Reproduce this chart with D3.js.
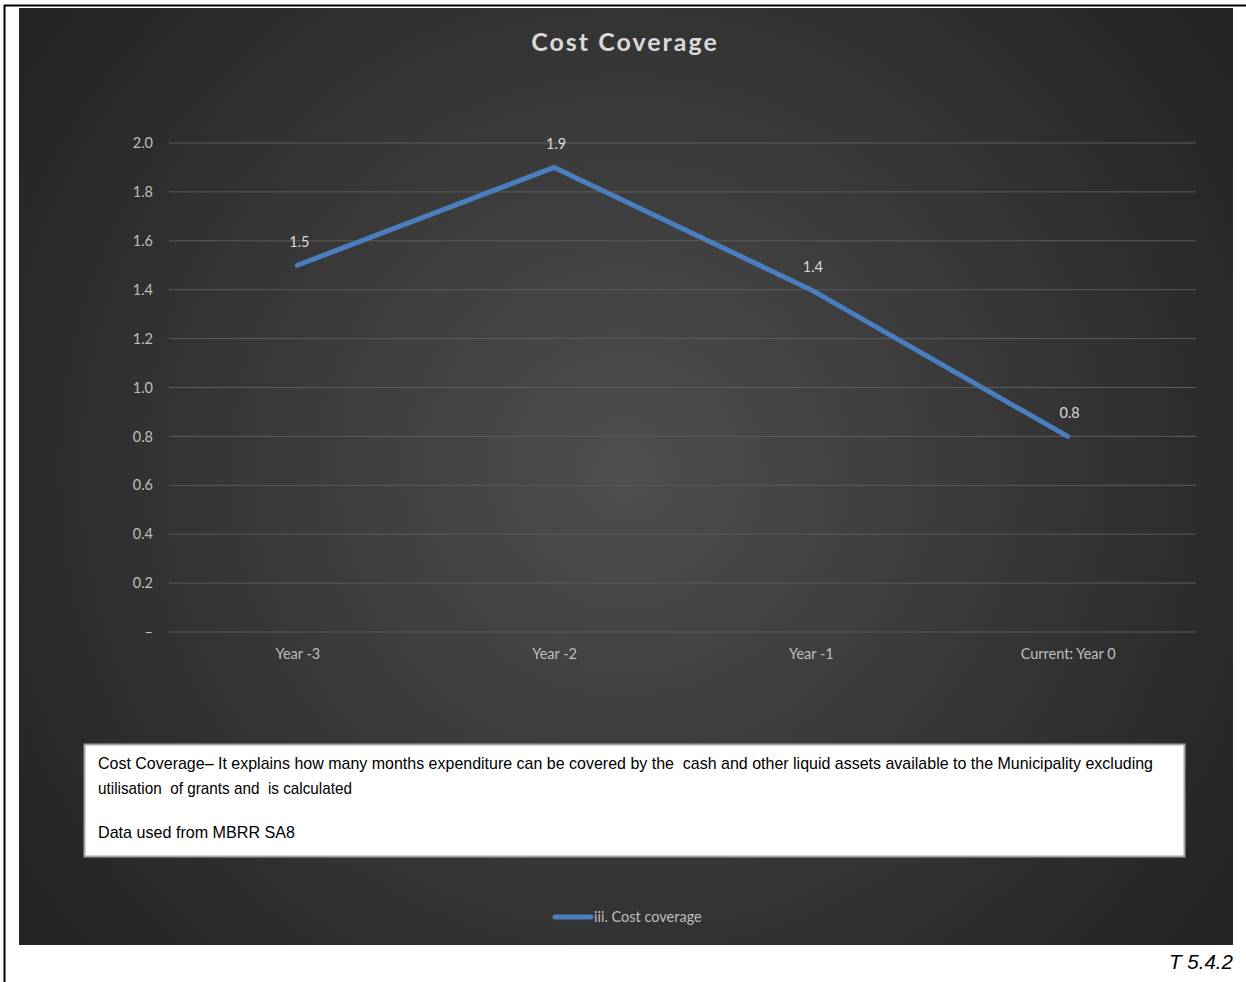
<!DOCTYPE html>
<html>
<head>
<meta charset="utf-8">
<script src="https://cdn.jsdelivr.net/npm/d3@7/dist/d3.min.js"></script>
<style>
html,body{margin:0;padding:0;background:#fff;}
svg{display:block;}
</style>
</head>
<body>
<svg id="chart" width="1246" height="982"></svg>
<script>
const categories = ["Year -3", "Year -2", "Year -1", "Current: Year 0"];
const values = [1.5, 1.9, 1.4, 0.8];
const yTicks = [0, 0.2, 0.4, 0.6, 0.8, 1.0, 1.2, 1.4, 1.6, 1.8, 2.0];
const seriesName = "iii. Cost coverage";
const title = "Cost Coverage";
const noteLines = [
  "Cost Coverage\u2013 It explains how many months expenditure can be covered by the  cash and other liquid assets available to the Municipality excluding",
  "utilisation  of grants and  is calculated",
  "",
  "Data used from MBRR SA8"
];
const tableRef = "T 5.4.2";

const svg = d3.select("#chart");
const defs = svg.append("defs");
const grad = defs.append("radialGradient").attr("id","bg")
  .attr("gradientUnits","userSpaceOnUse")
  .attr("cx",626).attr("cy",470).attr("r",720);
grad.append("stop").attr("offset","0%").attr("stop-color","#4e4e4e");
grad.append("stop").attr("offset","100%").attr("stop-color","#242424");

// page borders
svg.append("line").attr("x1",4.5).attr("x2",4.5).attr("y1",5).attr("y2",982).attr("stroke","#000").attr("stroke-width",2);
svg.append("line").attr("x1",4).attr("x2",1246).attr("y1",5.5).attr("y2",5.5).attr("stroke","#000").attr("stroke-width",2);

// chart area
svg.append("rect").attr("x",19).attr("y",8).attr("width",1214).attr("height",937).attr("fill","url(#bg)");

svg.append("text").attr("x",625).attr("y",51).attr("text-anchor","middle")
  .attr("font-family","Lato, 'Open Sans', sans-serif").attr("font-weight","bold")
  .attr("font-size",25).attr("fill","#d9d9d9").attr("letter-spacing",2).text(title);

const x = d3.scalePoint().domain(categories).range([169,1196]).padding(0.5);
const y = d3.scaleLinear().domain([0,2.0]).range([632,143]);

const g = svg.append("g");
g.selectAll("line.grid").data(yTicks).join("line")
  .attr("x1",169).attr("x2",1196)
  .attr("y1",d=>y(d)).attr("y2",d=>y(d))
  .attr("stroke","#5c5c5c").attr("stroke-width",1);

const font = "Lato, 'Open Sans', sans-serif";
const yAxis = d3.axisLeft(y).tickValues(yTicks).tickSize(0).tickPadding(0)
  .tickFormat(d => d === 0 ? "\u2013" : d3.format(".1f")(d));
const ya = svg.append("g").attr("transform","translate(153,0)").call(yAxis);
ya.select(".domain").remove();
ya.selectAll("text").attr("font-family",font).attr("font-size",14.5).attr("fill","#bfbfbf");

const xAxis = d3.axisBottom(x).tickSize(0).tickPadding(0);
const xa = svg.append("g").attr("transform","translate(0,649)").call(xAxis);
xa.select(".domain").remove();
xa.selectAll("text").attr("font-family",font).attr("font-size",14.5).attr("fill","#bfbfbf");

const data = categories.map((c,i)=>({c, v:values[i]}));
const line = d3.line().x(d=>x(d.c)).y(d=>y(d.v));
svg.append("path").datum(data).attr("d",line).attr("fill","none")
  .attr("stroke","#4a7ebf").attr("stroke-width",5).attr("stroke-linecap","round").attr("stroke-linejoin","round");

svg.selectAll("text.lbl").data(data).join("text").attr("class","lbl")
  .attr("x",d=>x(d.c)+2).attr("y",d=>y(d.v)-18).attr("text-anchor","middle")
  .attr("font-family",font).attr("font-size",14.5).attr("fill","#d9d9d9")
  .text(d=>d3.format(".1f")(d.v));

// note box
svg.append("rect").attr("x",84.5).attr("y",744.5).attr("width",1100).attr("height",112)
  .attr("fill","#fff").attr("stroke","#a6a6a6").attr("stroke-width",2);
const noteFont = "'Liberation Sans Narrow', 'Liberation Sans', Arial, sans-serif";
const ly = [769, 794, 0, 838];
const lens = [1055, 254, 0, 197];
noteLines.forEach((t,i)=>{
  if(!t) return;
  svg.append("text").attr("x",98).attr("y",ly[i])
    .attr("font-family",noteFont).attr("font-size",17).attr("fill","#000")
    .attr("xml:space","preserve").style("white-space","pre")
    .attr("textLength",lens[i]).attr("lengthAdjust","spacingAndGlyphs").text(t);
});

// legend
svg.append("line").attr("x1",555).attr("x2",591).attr("y1",917).attr("y2",917)
  .attr("stroke","#4a7ebf").attr("stroke-width",5).attr("stroke-linecap","round");
svg.append("text").attr("x",594).attr("y",922).attr("font-family",font).attr("font-size",14.5)
  .attr("fill","#bfbfbf").text(seriesName);

svg.append("text").attr("x",1233).attr("y",969).attr("text-anchor","end")
  .attr("font-family",noteFont).attr("font-style","italic").attr("font-size",21)
  .attr("fill","#000").attr("textLength",64).attr("lengthAdjust","spacingAndGlyphs").text(tableRef);
</script>
</body>
</html>
